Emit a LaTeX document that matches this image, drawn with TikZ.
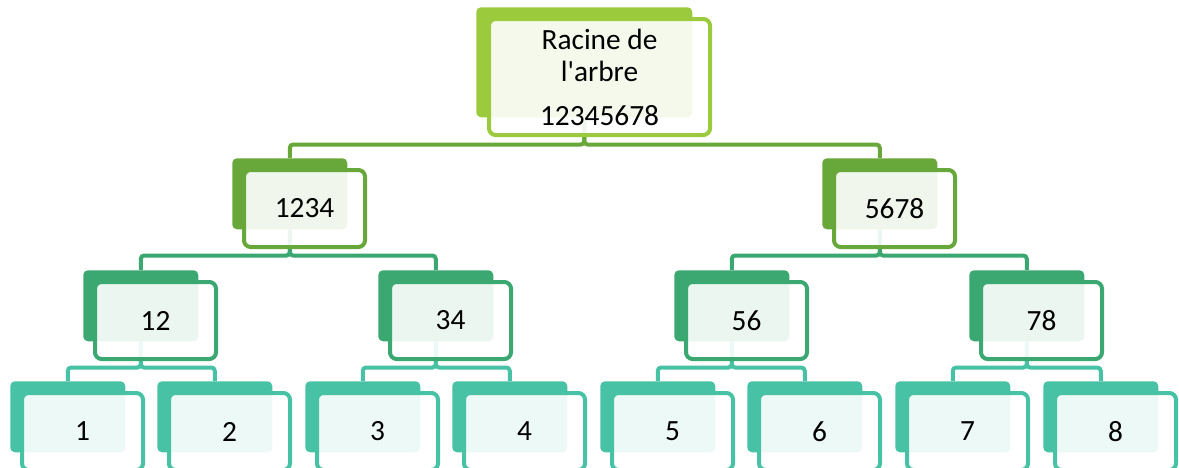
\documentclass[tikz,border=0pt]{standalone}
\usepackage{fontspec}
\newfontfamily\boxfont{Carlito}
\pgfdeclarelayer{bg}
\pgfsetlayers{bg,main}
\definecolor{croot}{RGB}{155,203,60}
\definecolor{cone}{RGB}{104,168,58}
\definecolor{ctwo}{RGB}{58,168,112}
\definecolor{cthree}{RGB}{72,194,164}
\tikzset{
  backbox/.style={rectangle, rounded corners=3.5pt, inner sep=0pt, minimum width=86.25pt, minimum height=53.25pt, anchor=north west},
  frontbox/.style={rectangle, rounded corners=5pt, inner sep=0pt, minimum width=90.75pt, minimum height=57.75pt, anchor=north west, line width=3pt, fill=white, fill opacity=0.9, text opacity=1, font=\boxfont\fontsize{22}{24}\selectfont, align=center},
  conn/.style={line width=3pt, rounded corners=2.5pt}
}
\newcommand\treebox[5]{%
  \node[backbox, fill=#4] (#1-bk) at (#2,#3) {};
  \node[frontbox, draw=#4] (#1) at (#2+10,#3+10) {#5};
}
% parent, left child, right child, drop, colour
\newcommand\branch[5]{%
  \draw[conn, draw=#5] (#1-bk.south) -- ++(0,#4) -| (#2-bk.north);
  \draw[conn, draw=#5] (#1-bk.south) -- ++(0,#4) -| (#3-bk.north);
}
\begin{document}
\begin{tikzpicture}[x=0.75pt,y=-0.75pt]
\useasboundingbox (0,0) rectangle (1179,468);
% root
\node[backbox, fill=croot, minimum width=162pt, minimum height=82.5pt] (root-bk) at (476,7) {};
\node[frontbox, draw=croot, minimum width=165.75pt, minimum height=87pt] (root) at (487,17) {Racine de\\l'arbre\\[9pt]12345678};
% level 1
\treebox{na}{232}{158}{cone}{1234}
\treebox{nb}{822}{158}{cone}{5678}
% level 2
\treebox{naa}{83}{270}{ctwo}{12}
\treebox{nab}{378}{270}{ctwo}{34}
\treebox{nba}{674}{270}{ctwo}{56}
\treebox{nbb}{969}{270}{ctwo}{78}
% level 3
\treebox{la}{10}{381}{cthree}{1}
\treebox{lb}{157}{381}{cthree}{2}
\treebox{lc}{305}{381}{cthree}{3}
\treebox{ld}{452}{381}{cthree}{4}
\treebox{le}{600}{381}{cthree}{5}
\treebox{lf}{747}{381}{cthree}{6}
\treebox{lg}{895}{381}{cthree}{7}
\treebox{lh}{1043}{381}{cthree}{8}
\begin{pgfonlayer}{bg}
\branch{root}{na}{nb}{27}{cone}
\branch{na}{naa}{nab}{26}{ctwo}
\branch{nb}{nba}{nbb}{26}{ctwo}
\branch{naa}{la}{lb}{26}{cthree}
\branch{nab}{lc}{ld}{26}{cthree}
\branch{nba}{le}{lf}{26}{cthree}
\branch{nbb}{lg}{lh}{26}{cthree}
\end{pgfonlayer}
\end{tikzpicture}
\end{document}
